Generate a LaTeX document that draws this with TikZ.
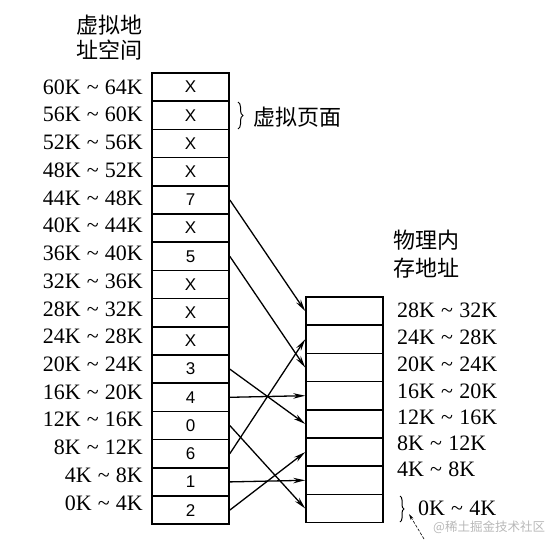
\documentclass[tikz,border=0pt]{standalone}
\usepackage{fontspec}
\setmainfont{Liberation Serif}
\newfontfamily\cjk{Noto Sans CJK SC}
\newfontfamily\sansf{Liberation Sans}
\usetikzlibrary{arrows.meta,decorations.pathreplacing}
\newcommand\rng[2]{#1K\hspace{0.28em}\textasciitilde\hspace{0.28em}#2K}
\begin{document}
\begin{tikzpicture}[x=1pt,y=-1pt,
  cell/.style={draw, line width=1.6pt, minimum width=77pt, minimum height=28.2pt, inner sep=0pt, font=\sansf\fontsize{17}{17}\selectfont},
  addr/.style={inner sep=0pt, font=\fontsize{22}{22}\selectfont},
  cn/.style={inner sep=0pt, align=center},
  map/.style={line width=1.3pt, -{Stealth[length=12pt,width=5.5pt]}},
  bracestyle/.style={decorate, decoration={brace, amplitude=5pt}, line width=1pt},
]
\useasboundingbox (0,0) rectangle (552,549);

% titles
\node[cn, font=\cjk\fontsize{22}{25}\selectfont] (vtitle) at (109,37.5) {虚拟地\\址空间};
\node[cn, font=\cjk\fontsize{22}{28}\selectfont] (ptitle) at (426,254) {物理内\\存地址};

% virtual pages
\foreach \c [count=\i from 0] in {X,X,X,X,7,X,5,X,X,X,3,4,0,6,1,2}
  \node[cell] (v\i) at (190.5,{87.1+28.2*\i}) {\c};

% physical frames
\foreach \i in {0,...,7}
  \node[cell] (p\i) at (344.5,{311.1+28.2*\i}) {};

% virtual address labels
\foreach \a/\b [count=\i from 0] in {60/64,56/60,52/56,48/52,44/48,40/44,36/40,32/36,28/32,24/28,20/24,16/20,12/16,8/12,4/8,0/4}
  \node[addr, anchor=east] (la\i) at (143,{87+27.73*\i}) {\rng{\a}{\b}};

% physical address labels
\node[addr, anchor=west] (lb0) at (397,310) {\rng{28}{32}};
\node[addr, anchor=west] (lb1) at (397,337) {\rng{24}{28}};
\node[addr, anchor=west] (lb2) at (397,364) {\rng{20}{24}};
\node[addr, anchor=west] (lb3) at (397,391) {\rng{16}{20}};
\node[addr, anchor=west] (lb4) at (397,417) {\rng{12}{16}};
\node[addr, anchor=west] (lb5) at (397,443) {\rng{8}{12}};
\node[addr, anchor=west] (lb6) at (397,469) {\rng{4}{8}};
\node[addr, anchor=west] (lb7) at (418,508) {\rng{0}{4}};

% virtual page brace
\coordinate (b1a) at (238,102);
\coordinate (b1b) at (238,129);
\draw[bracestyle] (b1a) -- (b1b);
\node[inner sep=0pt, anchor=west, font=\cjk\fontsize{22}{22}\selectfont] (vpage) at (253,117) {虚拟页面};

% bottom brace and pointer
\coordinate (b2a) at (400,496);
\coordinate (b2b) at (400,522);
\draw[bracestyle, decoration={brace, amplitude=4pt}] (b2a) -- (b2b);
\coordinate (ptrs) at (424,539);
\coordinate (ptre) at (409,514);
\draw[line width=0.6pt, dash pattern=on 3pt off 1.5pt, -{Stealth[length=6pt,width=3pt]}] (ptrs) -- (ptre);

% mappings
\draw[map] (v4.east) -- (p0.west);
\draw[map] (v6.east) -- (p2.west);
\draw[map] (v10.east) -- (p4.west);
\draw[map] (v11.east) -- (p3.west);
\draw[map] (v12.east) -- (p7.west);
\draw[map] (v13.east) -- (p1.west);
\draw[map] (v14.east) -- (p6.west);
\draw[map] (v15.east) -- (p5.west);

% watermark
\node[inner sep=0pt, anchor=west, text=black!28, font=\cjk\fontsize{12.5}{12.5}\selectfont] (wm) at (433,527) {@稀土掘金技术社区};
\end{tikzpicture}
\end{document}
